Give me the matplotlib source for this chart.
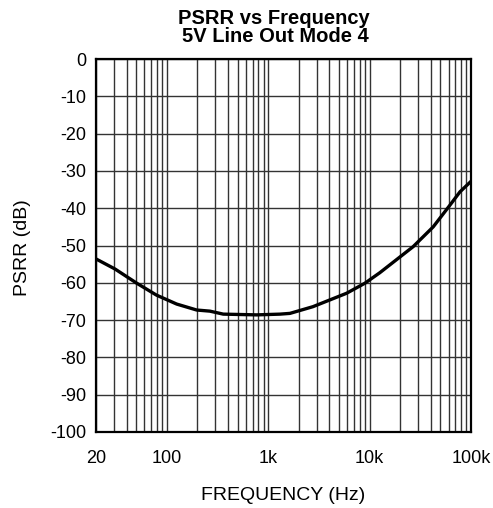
"""PSRR vs frequency chart, 5V line out mode 4."""
import matplotlib
matplotlib.use("Agg")
import matplotlib.pyplot as plt
from matplotlib.ticker import FixedLocator, LogLocator, NullFormatter

plt.rcParams["font.family"] = ["Liberation Sans", "DejaVu Sans"]

# curve
freq_hz = [20, 30.8, 50.4, 79, 125, 197, 266, 360, 769, 1306, 1637,
           2760, 5930, 9000, 12600, 26900, 42400, 61900, 77900, 100000]
psrr_db = [-53.6, -56.3, -60.1, -63.3, -65.7, -67.3, -67.6, -68.4, -68.6, -68.4, -68.2,
           -66.4, -62.8, -60.1, -57.3, -50.3, -45.0, -39.2, -35.6, -32.8]

x_ticks = [20, 100, 1000, 10000, 100000]
x_labels = ["20", "100", "1k", "10k", "100k"]
y_ticks = list(range(-100, 1, 10))

W, H = 493, 508
fig = plt.figure(figsize=(W / 100, H / 100), dpi=100)
ax = fig.add_axes([96 / W, 1 - 432 / H, (471 - 96) / W, (432 - 59) / H])

ax.set_xscale("log")
ax.set_xlim(20, 100000)
ax.set_ylim(-100, 0)

# grid: every decade sub-step vertically, every 10 dB horizontally
ax.xaxis.set_major_locator(FixedLocator(x_ticks))
ax.xaxis.set_minor_locator(LogLocator(base=10, subs=range(2, 10), numticks=20))
ax.xaxis.set_minor_formatter(NullFormatter())
ax.set_xticks(x_ticks, x_labels)
ax.set_yticks(y_ticks, [str(v) for v in y_ticks])
ax.grid(True, which="both", axis="x", color="#333333", lw=1.0)
ax.grid(True, which="major", axis="y", color="#333333", lw=1.0)
ax.set_axisbelow(True)

ax.plot(freq_hz, psrr_db, color="black", lw=2.4, solid_capstyle="round")

ax.tick_params(axis="both", which="both", length=0, labelsize=13)
ax.tick_params(axis="x", pad=13)
ax.tick_params(axis="y", pad=7)
for s in ax.spines.values():
    s.set_linewidth(1.6)
    s.set_color("black")

fig.text(23 / W, 1 - 248 / H, "PSRR (dB)", rotation=90, ha="center", va="center", fontsize=14)
fig.text(283 / W, 1 - 495 / H, "FREQUENCY (Hz)", ha="center", va="center", fontsize=14)
fig.text(274 / W, 1 - 19 / H, "PSRR vs Frequency", ha="center", va="center",
         fontsize=14.5, fontweight="bold")
fig.text(275 / W, 1 - 37 / H, "5V Line Out Mode 4", ha="center", va="center",
         fontsize=14.5, fontweight="bold")

fig.savefig("out.png", dpi=100)
